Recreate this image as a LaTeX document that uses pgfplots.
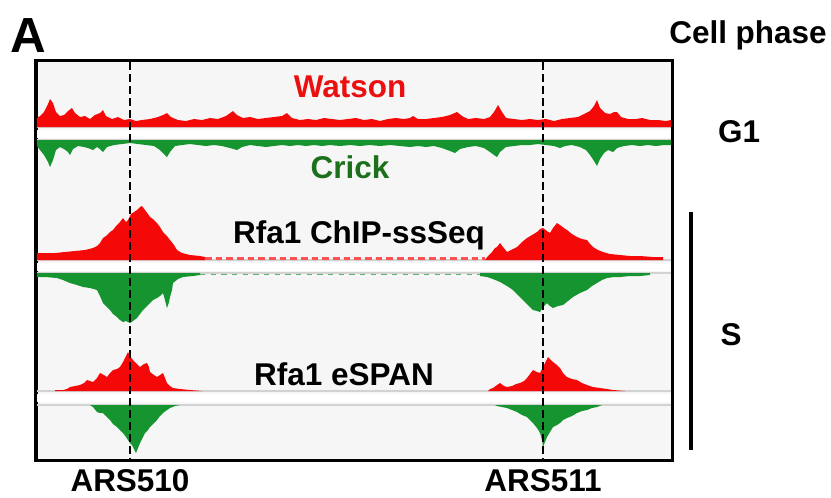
\documentclass[border=0pt]{standalone}
\usepackage{pgfplots}
\pgfplotsset{compat=1.18}
\usepackage{fontspec}
\setmainfont{Liberation Sans}
\definecolor{wred}{RGB}{245,8,8}
\definecolor{cgreen}{RGB}{22,148,48}
\definecolor{tred}{RGB}{235,15,15}
\definecolor{tgreen}{RGB}{28,112,28}
\definecolor{bg}{RGB}{246,246,246}
\definecolor{gline}{RGB}{210,210,210}
\newcommand{\lab}{\fontsize{23.6}{28}\selectfont\bfseries}
\begin{document}
\begin{tikzpicture}
\begin{axis}[
  x=0.75pt, y=0.75pt, y dir=reverse,
  xmin=36, xmax=672.5, ymin=60.5, ymax=460.5,
  axis line style={line width=2.3pt},
  ticks=none, clip=false,
  axis background/.style={fill=bg},
]
% invisible frame matching the reference size
\path (axis cs:0,0) rectangle (axis cs:831,497);
% baselines
\addplot[white, line width=6pt] coordinates {(37,133.5)(671,133.5)};
\addplot[white, line width=6pt] coordinates {(37,266.5)(671,266.5)};
\addplot[white, line width=6pt] coordinates {(37,398)(671,398)};
\addplot[gline, line width=1.2pt] coordinates {(37,127.5)(671,127.5)};
\addplot[gline, line width=1.2pt] coordinates {(37,139.5)(671,139.5)};
\addplot[gline, line width=1.2pt] coordinates {(37,260)(671,260)};
\addplot[gline, line width=1.2pt] coordinates {(37,273)(671,273)};
\addplot[gline, line width=1.5pt] coordinates {(37,391)(671,391)};
\addplot[gline, line width=1.5pt] coordinates {(37,405)(671,405)};
% G1 Watson
\addplot[fill=wred, draw=none] coordinates {
(37,127) (37,118) (40,116) (44,112) (48,104) (50,99) (53,103) (56,112) (60,116) (64,115) (68,111) (72,108) (75,113) (80,117) (85,116) (90,119) (95,115) (100,113) (103,110) (106,116) (112,119) (118,117) (124,120) (130,119) (136,121) (142,120) (150,119) (158,117) (163,115) (167,113) (171,117) (178,120) (186,121) (194,119) (202,120) (210,118) (218,119) (226,116) (233,111) (237,115) (243,118) (250,117) (258,119) (266,118) (274,117) (282,116) (287,113) (292,118) (300,120) (308,119) (316,120) (324,118) (332,119) (340,120) (348,119) (356,118) (364,120) (372,119) (380,121) (388,119) (396,118) (404,119) (410,118) (413,116) (418,119) (426,119) (434,118) (442,117) (450,115) (457,112) (462,116) (468,119) (476,118) (484,119) (490,117) (494,112) (498,105) (502,112) (506,118) (514,119) (522,120) (530,119) (538,120) (546,119) (554,121) (562,119) (570,118) (578,117) (584,114) (590,111) (594,106) (597,100) (600,108) (605,113) (610,114) (614,112) (617,112) (621,117) (628,119) (636,119) (642,118) (650,120) (658,120) (666,121) (671,120) (671,127)};
% G1 Crick
\addplot[fill=cgreen, draw=none] coordinates {
(37,140) (37,146) (40,150) (44,155) (48,162) (50,167) (53,160) (56,150) (60,147) (64,149) (68,152) (70,155) (73,149) (78,146) (84,147) (88,148) (93,150) (97,147) (100,149) (103,152) (107,147) (114,145) (122,144) (130,143) (138,144) (146,145) (154,146) (160,150) (164,154) (167,157) (170,152) (175,146) (182,145) (190,144) (198,145) (206,146) (214,145) (222,146) (230,148) (237,150) (242,147) (250,145) (258,146) (266,147) (274,146) (282,145) (290,146) (298,145) (306,146) (314,145) (322,146) (330,145) (340,146) (350,145) (360,146) (370,145) (380,146) (390,145) (400,146) (410,147) (418,146) (426,147) (434,146) (442,148) (450,151) (455,153) (460,149) (468,147) (476,146) (484,148) (490,152) (494,155) (497,157) (500,152) (506,147) (514,146) (522,145) (530,145) (538,144) (546,145) (554,146) (560,148) (565,146) (572,145) (580,147) (586,150) (590,155) (594,161) (597,166) (600,159) (604,153) (608,150) (613,152) (617,148) (624,146) (632,145) (640,146) (648,145) (656,146) (664,145) (671,145) (671,140)};
% S ChIP-ssSeq Watson
\addplot[fill=wred, draw=none] coordinates {
(37,260) (37,253) (45,253) (55,253) (65,252) (75,251) (85,250) (93,248) (97,246) (100,243) (103,238) (106,236) (110,232) (113,230) (116,226) (120,222) (123,218) (126,222) (128,220) (131,214) (134,212) (137,210) (140,207) (142,206) (145,210) (148,214) (150,217) (153,219) (157,223) (160,227) (163,232) (167,236) (170,240) (174,245) (177,250) (182,253) (190,255) (200,256) (205,257) (205,260)};
\addplot[fill=wred, draw=none] coordinates {
(485,260) (488,256) (492,252) (495,248) (497,247) (500,243) (503,247) (507,252) (511,250) (517,247) (522,242) (527,238) (532,235) (537,232) (540,229) (543,228) (547,231) (550,233) (553,228) (557,223) (560,225) (564,228) (567,230) (572,234) (577,237) (582,239) (587,240) (590,244) (593,247) (598,250) (603,252) (610,254) (620,255) (630,256) (640,256) (653,257) (663,257) (663,260)};
\addplot[wred!70, line width=1.6pt, dash pattern=on 5pt off 3pt] coordinates {(205,258.5)(485,258.5)};
% S ChIP-ssSeq Crick
\addplot[fill=cgreen, draw=none] coordinates {
(37,273) (37,277) (45,277) (57,278) (63,280) (70,283) (77,285) (83,287) (90,288) (97,290) (100,296) (103,303) (106,306) (110,310) (113,314) (117,317) (120,320) (123,322) (126,321) (130,323) (133,321) (137,318) (140,314) (143,310) (147,306) (150,303) (153,300) (157,298) (160,296) (163,293) (165,300) (167,308) (169,302) (170,297) (172,290) (173,283) (178,279) (183,277) (193,276) (200,275) (200,273)};
\addplot[fill=cgreen, draw=none] coordinates {
(480,273) (480,276) (487,277) (493,279) (500,282) (507,286) (513,290) (518,295) (523,300) (528,305) (533,310) (537,311) (540,312) (543,307) (547,303) (550,306) (553,308) (558,306) (563,305) (568,301) (573,297) (580,293) (587,290) (592,286) (597,283) (602,280) (607,278) (614,277) (620,277) (630,276) (640,276) (650,275) (650,273)};
\addplot[cgreen!70, line width=1.2pt, dash pattern=on 4pt off 4pt] coordinates {(200,274.5)(480,274.5)};
% S eSPAN Watson
\addplot[fill=wred, draw=none] coordinates {
(55,391) (55,390) (63,390) (67,389) (70,387) (75,386) (80,385) (84,383) (87,380) (90,381) (93,382) (97,378) (100,373) (104,375) (107,377) (110,373) (113,370) (117,369) (120,367) (123,362) (125,358) (127,354) (128,352) (130,356) (133,360) (137,364) (140,367) (144,364) (147,363) (149,367) (150,372) (154,375) (157,377) (160,375) (163,373) (165,378) (167,383) (170,386) (173,388) (180,389) (190,390) (202,391)};
\addplot[fill=wred, draw=none] coordinates {
(488,391) (490,389) (493,388) (497,385) (500,383) (504,386) (507,387) (512,386) (516,384) (520,383) (524,381) (527,378) (530,374) (533,370) (537,372) (540,373) (543,367) (545,363) (548,357) (550,359) (553,362) (557,365) (560,368) (563,373) (567,377) (572,379) (577,380) (582,383) (587,385) (593,387) (600,388) (607,389) (613,390) (625,391)};
% S eSPAN Crick
\addplot[fill=cgreen, draw=none] coordinates {
(90,405) (93,407) (97,412) (100,413) (103,413) (107,417) (110,420) (113,424) (117,427) (120,430) (123,433) (126,437) (128,440) (130,443) (132,445) (134,449) (136,453) (138,448) (140,443) (143,437) (145,433) (148,430) (150,427) (153,424) (157,420) (160,416) (163,413) (167,410) (170,408) (175,406) (180,405)};
\addplot[fill=cgreen, draw=none] coordinates {
(495,405) (497,406) (502,407) (507,408) (512,410) (517,412) (522,415) (527,417) (530,420) (533,423) (537,428) (540,433) (542,440) (543,447) (545,442) (547,437) (550,432) (553,427) (557,425) (560,423) (563,420) (567,418) (572,416) (577,413) (582,411) (587,410) (592,408) (597,407) (602,405)};
% origin lines
\addplot[black, line width=1.8pt, dash pattern=on 6pt off 3pt] coordinates {(130,62)(130,459)};
\addplot[black, line width=1.8pt, dash pattern=on 6pt off 3pt] coordinates {(543,62)(543,459)};
% labels
\node[anchor=base west, inner sep=0pt] at (axis cs:10,52) {\fontsize{37}{44}\selectfont\bfseries A};
\node[anchor=base, inner sep=0pt] at (axis cs:748,43) {\lab Cell phase};
\node[anchor=base, inner sep=0pt, text=tred] at (axis cs:350,97) {\lab Watson};
\node[anchor=base, inner sep=0pt, text=tgreen] at (axis cs:350,178) {\lab Crick};
\node[anchor=base, inner sep=0pt] at (axis cs:359,243) {\lab Rfa1 ChIP-ssSeq};
\node[anchor=base, inner sep=0pt] at (axis cs:344,385) {\lab Rfa1 eSPAN};
\node[anchor=base, inner sep=0pt] at (axis cs:739,142) {\lab G1};
\node[anchor=base, inner sep=0pt] at (axis cs:731,345) {\lab S};
\node[anchor=base, inner sep=0pt] at (axis cs:130,491) {\lab ARS510};
\node[anchor=base, inner sep=0pt] at (axis cs:543,491) {\lab ARS511};
\draw[line width=2.4pt] (axis cs:691,212) -- (axis cs:691,450);
\end{axis}
\end{tikzpicture}
\end{document}
